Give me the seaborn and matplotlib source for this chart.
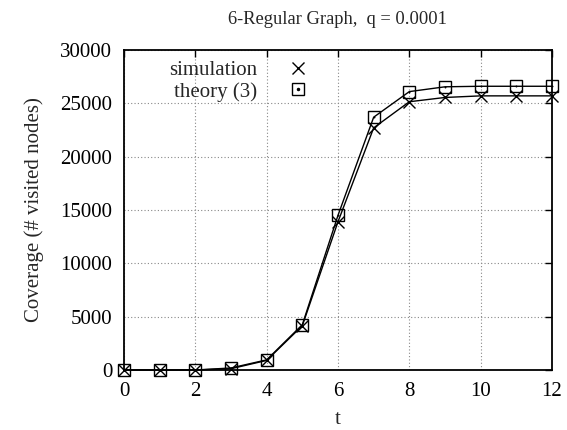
import matplotlib
matplotlib.use("Agg")
import matplotlib.pyplot as plt
import seaborn as sns
import pandas as pd
from matplotlib.lines import Line2D

t = list(range(13))
simulation = [0, 0, 0, 120, 900, 4150, 13900, 22700, 25150, 25550, 25700, 25700, 25700]
theory = [0, 0, 0, 190, 950, 4250, 14500, 23700, 26100, 26550, 26600, 26600, 26600]
xticks = [0, 2, 4, 6, 8, 10, 12]
yticks = [0, 5000, 10000, 15000, 20000, 25000, 30000]

sns.set_style("white")
plt.rcParams['font.family'] = ['Liberation Serif', 'DejaVu Serif']

FS = 15
fig = plt.figure(figsize=(5.67, 4.30), dpi=100)
ax = fig.add_axes([124/567, 1-370/430, (552-124)/567, (370-50)/430])

df = pd.DataFrame({"t": t, "simulation": simulation, "theory": theory})

sns.lineplot(data=df, x="t", y="simulation", ax=ax, color="black", lw=1.0,
             marker="x", markersize=8.5, markeredgewidth=1.0, markeredgecolor="black",
             clip_on=False, zorder=4)
sns.lineplot(data=df, x="t", y="theory", ax=ax, color="black", lw=1.0,
             marker="s", markersize=9, markerfacecolor="none", markeredgewidth=1.0,
             markeredgecolor="black", clip_on=False, zorder=4)
sns.scatterplot(data=df, x="t", y="theory", ax=ax, color="black", s=2, marker="o",
                linewidth=0, zorder=5, clip_on=False)

ax.set_xlim(0, 12)
ax.set_ylim(0, 30000)
ax.set_xticks(xticks)
ax.set_yticks(yticks)
ax.set_xticklabels([str(v) for v in xticks])
ax.set_yticklabels([str(v) for v in yticks])
ax.tick_params(axis="both", direction="in", length=5, width=1, top=True, right=True,
               labelsize=FS, colors="black")
ax.tick_params(axis="y", pad=8.5)
ax.tick_params(axis="x", pad=9)
ax.grid(True, linestyle=(0, (1, 2)), color="#888888", linewidth=0.8)
for s in ax.spines.values():
    s.set_linewidth(1.3)
    s.set_color("black")
    s.set_zorder(3)

ax.set_xlabel("t", fontsize=FS, labelpad=6)
ax.set_ylabel("Coverage (# visited nodes)", fontsize=FS, labelpad=12)
fig.text((124+552)/2/567, 1-19/430, "6-Regular Graph,  q = 0.0001", ha="center",
         va="center", fontsize=13.3)

h1 = Line2D([], [], color="black", marker="x", linestyle="none", markersize=8.5,
            markeredgewidth=1.0)
h2 = Line2D([], [], color="black", marker="s", linestyle="none", markersize=9,
            markerfacecolor="none", markeredgewidth=1.0)
h2dot = Line2D([], [], color="black", marker="o", linestyle="none", markersize=1.5)
leg = ax.legend([h1, (h2, h2dot)], ["simulation", "theory (3)"], loc="upper right",
                bbox_to_anchor=(322/567, 1-52/430), bbox_transform=fig.transFigure,
                frameon=False, markerfirst=False,
                fontsize=FS, handlelength=1.5, handletextpad=1.2, labelspacing=0.1,
                borderaxespad=0.0)
leg._legend_box.align = "right"

fig.savefig("out.png", dpi=100)
